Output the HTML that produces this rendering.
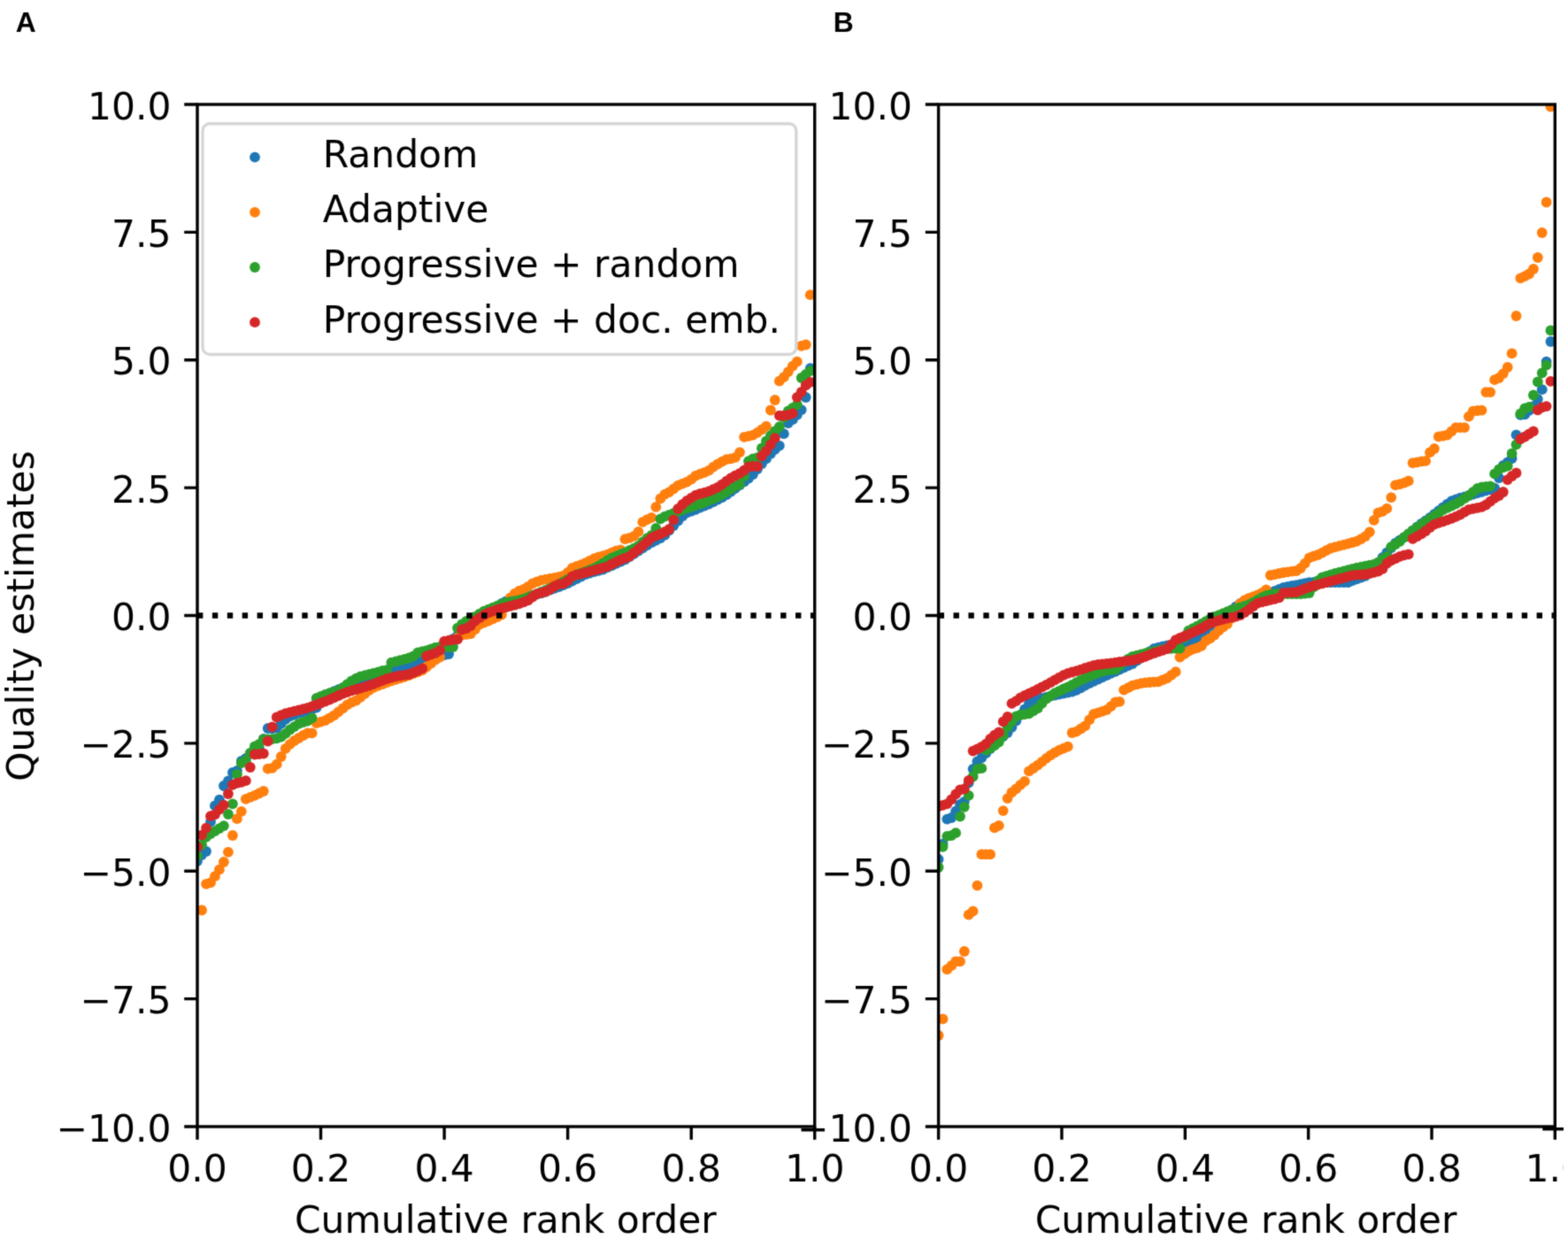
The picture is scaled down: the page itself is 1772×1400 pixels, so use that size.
<!DOCTYPE html>
<html><head><meta charset="utf-8"><title>Quality estimates vs cumulative rank order</title>
<style>
html,body{margin:0;padding:0;background:#fff;overflow:hidden;}
svg{display:block;}
text{font-family:"DejaVu Sans","Liberation Sans",sans-serif;font-size:42.4px;fill:#000;}
text.lab{font-family:"Liberation Sans",Arial,sans-serif;font-weight:bold;font-size:31.8px;}
</style></head>
<body>
<svg width="1772" height="1400" viewBox="0 0 1772 1400">
<defs><filter id="soft" x="0" y="0" width="1772" height="1400" filterUnits="userSpaceOnUse" color-interpolation-filters="sRGB"><feConvolveMatrix order="3" kernelMatrix="0.02768 0.11101 0.02768 0.11101 0.44521 0.11101 0.02768 0.11101 0.02768" divisor="1" edgeMode="duplicate" preserveAlpha="true"/></filter></defs>
<g filter="url(#soft)">
<rect width="1772" height="1400" fill="#fff"/>
<clipPath id="clipA"><rect x="223" y="118" width="697.7" height="1155"/></clipPath>
<g clip-path="url(#clipA)">
<g fill="#1f77b4">
<circle cx="223" cy="973" r="5.9"/>
<circle cx="228" cy="966.1" r="5.9"/>
<circle cx="233" cy="962" r="5.9"/>
<circle cx="238" cy="928.6" r="5.9"/>
<circle cx="242.9" cy="910.4" r="5.9"/>
<circle cx="247.9" cy="903.6" r="5.9"/>
<circle cx="252.9" cy="888" r="5.9"/>
<circle cx="257.9" cy="882.5" r="5.9"/>
<circle cx="262.9" cy="873" r="5.9"/>
<circle cx="267.9" cy="870.8" r="5.9"/>
<circle cx="272.8" cy="860" r="5.9"/>
<circle cx="277.8" cy="856.8" r="5.9"/>
<circle cx="282.8" cy="851.2" r="5.9"/>
<circle cx="287.8" cy="847.8" r="5.9"/>
<circle cx="292.8" cy="845" r="5.9"/>
<circle cx="297.8" cy="835" r="5.9"/>
<circle cx="302.7" cy="823" r="5.9"/>
<circle cx="307.7" cy="823.4" r="5.9"/>
<circle cx="312.7" cy="822.5" r="5.9"/>
<circle cx="317.7" cy="817.8" r="5.9"/>
<circle cx="322.7" cy="812.9" r="5.9"/>
<circle cx="327.7" cy="809.3" r="5.9"/>
<circle cx="332.6" cy="807.6" r="5.9"/>
<circle cx="337.6" cy="805.8" r="5.9"/>
<circle cx="342.6" cy="804.4" r="5.9"/>
<circle cx="347.6" cy="803" r="5.9"/>
<circle cx="352.6" cy="801.5" r="5.9"/>
<circle cx="357.6" cy="799.5" r="5.9"/>
<circle cx="362.5" cy="787.6" r="5.9"/>
<circle cx="367.5" cy="785.5" r="5.9"/>
<circle cx="372.5" cy="783.3" r="5.9"/>
<circle cx="377.5" cy="781.1" r="5.9"/>
<circle cx="382.5" cy="779.2" r="5.9"/>
<circle cx="387.5" cy="777.5" r="5.9"/>
<circle cx="392.4" cy="775.9" r="5.9"/>
<circle cx="397.4" cy="774.2" r="5.9"/>
<circle cx="402.4" cy="772.5" r="5.9"/>
<circle cx="407.4" cy="770.9" r="5.9"/>
<circle cx="412.4" cy="769.2" r="5.9"/>
<circle cx="417.4" cy="767.4" r="5.9"/>
<circle cx="422.3" cy="765.7" r="5.9"/>
<circle cx="427.3" cy="763.9" r="5.9"/>
<circle cx="432.3" cy="762.2" r="5.9"/>
<circle cx="437.3" cy="760.5" r="5.9"/>
<circle cx="442.3" cy="758.7" r="5.9"/>
<circle cx="447.3" cy="757" r="5.9"/>
<circle cx="452.2" cy="755.3" r="5.9"/>
<circle cx="457.2" cy="753.6" r="5.9"/>
<circle cx="462.2" cy="751.9" r="5.9"/>
<circle cx="467.2" cy="750.2" r="5.9"/>
<circle cx="472.2" cy="748.5" r="5.9"/>
<circle cx="477.2" cy="746.8" r="5.9"/>
<circle cx="482.1" cy="745.5" r="5.9"/>
<circle cx="487.1" cy="744.2" r="5.9"/>
<circle cx="492.1" cy="742.8" r="5.9"/>
<circle cx="497.1" cy="741.5" r="5.9"/>
<circle cx="502.1" cy="740.2" r="5.9"/>
<circle cx="507.1" cy="739.1" r="5.9"/>
<circle cx="512" cy="722" r="5.9"/>
<circle cx="517" cy="718.1" r="5.9"/>
<circle cx="522" cy="714.2" r="5.9"/>
<circle cx="527" cy="710.3" r="5.9"/>
<circle cx="532" cy="706.6" r="5.9"/>
<circle cx="537" cy="703.1" r="5.9"/>
<circle cx="541.9" cy="699.6" r="5.9"/>
<circle cx="546.9" cy="696.1" r="5.9"/>
<circle cx="551.9" cy="692.6" r="5.9"/>
<circle cx="556.9" cy="689.1" r="5.9"/>
<circle cx="561.9" cy="685.6" r="5.9"/>
<circle cx="566.9" cy="682" r="5.9"/>
<circle cx="571.9" cy="679.5" r="5.9"/>
<circle cx="576.8" cy="678.3" r="5.9"/>
<circle cx="581.8" cy="677.1" r="5.9"/>
<circle cx="586.8" cy="675.8" r="5.9"/>
<circle cx="591.8" cy="674.7" r="5.9"/>
<circle cx="596.8" cy="673.7" r="5.9"/>
<circle cx="601.8" cy="672.7" r="5.9"/>
<circle cx="606.7" cy="671.7" r="5.9"/>
<circle cx="611.7" cy="670.4" r="5.9"/>
<circle cx="616.7" cy="668.5" r="5.9"/>
<circle cx="621.7" cy="666.7" r="5.9"/>
<circle cx="626.7" cy="664.9" r="5.9"/>
<circle cx="631.7" cy="663.1" r="5.9"/>
<circle cx="636.6" cy="661.2" r="5.9"/>
<circle cx="641.6" cy="659.2" r="5.9"/>
<circle cx="646.6" cy="656.6" r="5.9"/>
<circle cx="651.6" cy="654.1" r="5.9"/>
<circle cx="656.6" cy="651.6" r="5.9"/>
<circle cx="661.6" cy="649" r="5.9"/>
<circle cx="666.5" cy="647.5" r="5.9"/>
<circle cx="671.5" cy="646.1" r="5.9"/>
<circle cx="676.5" cy="644.8" r="5.9"/>
<circle cx="681.5" cy="643.5" r="5.9"/>
<circle cx="686.5" cy="641.2" r="5.9"/>
<circle cx="691.5" cy="639" r="5.9"/>
<circle cx="696.4" cy="636.8" r="5.9"/>
<circle cx="701.4" cy="634.5" r="5.9"/>
<circle cx="706.4" cy="632.3" r="5.9"/>
<circle cx="711.4" cy="629.2" r="5.9"/>
<circle cx="716.4" cy="625.9" r="5.9"/>
<circle cx="721.4" cy="622.6" r="5.9"/>
<circle cx="726.3" cy="619.3" r="5.9"/>
<circle cx="731.3" cy="616" r="5.9"/>
<circle cx="736.3" cy="613.2" r="5.9"/>
<circle cx="741.3" cy="610.6" r="5.9"/>
<circle cx="746.3" cy="608" r="5.9"/>
<circle cx="751.3" cy="604.7" r="5.9"/>
<circle cx="756.2" cy="599.3" r="5.9"/>
<circle cx="761.2" cy="594" r="5.9"/>
<circle cx="766.2" cy="588.7" r="5.9"/>
<circle cx="771.2" cy="583.3" r="5.9"/>
<circle cx="776.2" cy="579.4" r="5.9"/>
<circle cx="781.2" cy="577.7" r="5.9"/>
<circle cx="786.1" cy="575.8" r="5.9"/>
<circle cx="791.1" cy="573.7" r="5.9"/>
<circle cx="796.1" cy="571.6" r="5.9"/>
<circle cx="801.1" cy="569.5" r="5.9"/>
<circle cx="806.1" cy="567" r="5.9"/>
<circle cx="811.1" cy="564.5" r="5.9"/>
<circle cx="816" cy="562" r="5.9"/>
<circle cx="821" cy="559.2" r="5.9"/>
<circle cx="826" cy="555.5" r="5.9"/>
<circle cx="831" cy="551.8" r="5.9"/>
<circle cx="836" cy="548" r="5.9"/>
<circle cx="841" cy="544.3" r="5.9"/>
<circle cx="845.9" cy="540.5" r="5.9"/>
<circle cx="850.9" cy="536.1" r="5.9"/>
<circle cx="855.9" cy="530" r="5.9"/>
<circle cx="860.9" cy="524" r="5.9"/>
<circle cx="865.9" cy="518.4" r="5.9"/>
<circle cx="870.9" cy="512.8" r="5.9"/>
<circle cx="875.8" cy="507.9" r="5.9"/>
<circle cx="880.8" cy="503.6" r="5.9"/>
<circle cx="885.8" cy="490.2" r="5.9"/>
<circle cx="890.8" cy="478.1" r="5.9"/>
<circle cx="895.8" cy="474.2" r="5.9"/>
<circle cx="900.8" cy="468.8" r="5.9"/>
<circle cx="905.7" cy="463.1" r="5.9"/>
<circle cx="910.7" cy="449" r="5.9"/>
<circle cx="915.7" cy="416.1" r="5.9"/>
</g>
<g fill="#ff7f0e">
<circle cx="228" cy="1028.5" r="5.9"/>
<circle cx="233" cy="998.9" r="5.9"/>
<circle cx="238" cy="997.4" r="5.9"/>
<circle cx="242.9" cy="990.2" r="5.9"/>
<circle cx="247.9" cy="982.7" r="5.9"/>
<circle cx="252.9" cy="974" r="5.9"/>
<circle cx="257.9" cy="962.9" r="5.9"/>
<circle cx="262.9" cy="944" r="5.9"/>
<circle cx="267.9" cy="925.2" r="5.9"/>
<circle cx="272.8" cy="916.8" r="5.9"/>
<circle cx="277.8" cy="902.9" r="5.9"/>
<circle cx="282.8" cy="900.9" r="5.9"/>
<circle cx="287.8" cy="898.8" r="5.9"/>
<circle cx="292.8" cy="896.5" r="5.9"/>
<circle cx="297.8" cy="894" r="5.9"/>
<circle cx="302.7" cy="868.6" r="5.9"/>
<circle cx="307.7" cy="867.8" r="5.9"/>
<circle cx="312.7" cy="863.7" r="5.9"/>
<circle cx="317.7" cy="855" r="5.9"/>
<circle cx="322.7" cy="845.9" r="5.9"/>
<circle cx="327.7" cy="840.9" r="5.9"/>
<circle cx="332.6" cy="837" r="5.9"/>
<circle cx="337.6" cy="834" r="5.9"/>
<circle cx="342.6" cy="831" r="5.9"/>
<circle cx="347.6" cy="828.3" r="5.9"/>
<circle cx="352.6" cy="828.4" r="5.9"/>
<circle cx="357.6" cy="817.1" r="5.9"/>
<circle cx="362.5" cy="815.7" r="5.9"/>
<circle cx="367.5" cy="814.1" r="5.9"/>
<circle cx="372.5" cy="811.4" r="5.9"/>
<circle cx="377.5" cy="808.3" r="5.9"/>
<circle cx="382.5" cy="804.3" r="5.9"/>
<circle cx="387.5" cy="800.3" r="5.9"/>
<circle cx="392.4" cy="796.4" r="5.9"/>
<circle cx="397.4" cy="793.6" r="5.9"/>
<circle cx="402.4" cy="791.6" r="5.9"/>
<circle cx="407.4" cy="787.8" r="5.9"/>
<circle cx="412.4" cy="783.8" r="5.9"/>
<circle cx="417.4" cy="779.8" r="5.9"/>
<circle cx="422.3" cy="776.8" r="5.9"/>
<circle cx="427.3" cy="774.9" r="5.9"/>
<circle cx="432.3" cy="773" r="5.9"/>
<circle cx="437.3" cy="771" r="5.9"/>
<circle cx="442.3" cy="769.3" r="5.9"/>
<circle cx="447.3" cy="767.8" r="5.9"/>
<circle cx="452.2" cy="766.3" r="5.9"/>
<circle cx="457.2" cy="764.8" r="5.9"/>
<circle cx="462.2" cy="763.1" r="5.9"/>
<circle cx="467.2" cy="761.2" r="5.9"/>
<circle cx="472.2" cy="759.3" r="5.9"/>
<circle cx="477.2" cy="757.3" r="5.9"/>
<circle cx="482.1" cy="753.5" r="5.9"/>
<circle cx="487.1" cy="749.5" r="5.9"/>
<circle cx="492.1" cy="745.6" r="5.9"/>
<circle cx="497.1" cy="742.5" r="5.9"/>
<circle cx="502.1" cy="730" r="5.9"/>
<circle cx="507.1" cy="728.2" r="5.9"/>
<circle cx="512" cy="724" r="5.9"/>
<circle cx="517" cy="720.6" r="5.9"/>
<circle cx="522" cy="717.6" r="5.9"/>
<circle cx="527" cy="716.9" r="5.9"/>
<circle cx="532" cy="716.1" r="5.9"/>
<circle cx="537" cy="711.1" r="5.9"/>
<circle cx="541.9" cy="705.5" r="5.9"/>
<circle cx="546.9" cy="703.5" r="5.9"/>
<circle cx="551.9" cy="701.5" r="5.9"/>
<circle cx="556.9" cy="699.4" r="5.9"/>
<circle cx="561.9" cy="697" r="5.9"/>
<circle cx="566.9" cy="694.7" r="5.9"/>
<circle cx="571.9" cy="683.9" r="5.9"/>
<circle cx="576.8" cy="675.3" r="5.9"/>
<circle cx="581.8" cy="670.7" r="5.9"/>
<circle cx="586.8" cy="667.6" r="5.9"/>
<circle cx="591.8" cy="665.9" r="5.9"/>
<circle cx="596.8" cy="662.8" r="5.9"/>
<circle cx="601.8" cy="659.4" r="5.9"/>
<circle cx="606.7" cy="657.3" r="5.9"/>
<circle cx="611.7" cy="655.7" r="5.9"/>
<circle cx="616.7" cy="654.7" r="5.9"/>
<circle cx="621.7" cy="653.7" r="5.9"/>
<circle cx="626.7" cy="653" r="5.9"/>
<circle cx="631.7" cy="652" r="5.9"/>
<circle cx="636.6" cy="650.6" r="5.9"/>
<circle cx="641.6" cy="647" r="5.9"/>
<circle cx="646.6" cy="642" r="5.9"/>
<circle cx="651.6" cy="639.9" r="5.9"/>
<circle cx="656.6" cy="638.2" r="5.9"/>
<circle cx="661.6" cy="636.2" r="5.9"/>
<circle cx="666.5" cy="633.7" r="5.9"/>
<circle cx="671.5" cy="631.2" r="5.9"/>
<circle cx="676.5" cy="629.5" r="5.9"/>
<circle cx="681.5" cy="628.2" r="5.9"/>
<circle cx="686.5" cy="626.7" r="5.9"/>
<circle cx="691.5" cy="624.5" r="5.9"/>
<circle cx="696.4" cy="622.4" r="5.9"/>
<circle cx="701.4" cy="621.5" r="5.9"/>
<circle cx="706.4" cy="609.2" r="5.9"/>
<circle cx="711.4" cy="607.8" r="5.9"/>
<circle cx="716.4" cy="605.8" r="5.9"/>
<circle cx="721.4" cy="600.8" r="5.9"/>
<circle cx="726.3" cy="589.8" r="5.9"/>
<circle cx="731.3" cy="587.1" r="5.9"/>
<circle cx="736.3" cy="584.9" r="5.9"/>
<circle cx="741.3" cy="572.9" r="5.9"/>
<circle cx="746.3" cy="563.4" r="5.9"/>
<circle cx="751.3" cy="558.7" r="5.9"/>
<circle cx="756.2" cy="556.1" r="5.9"/>
<circle cx="761.2" cy="552.4" r="5.9"/>
<circle cx="766.2" cy="548.7" r="5.9"/>
<circle cx="771.2" cy="546.7" r="5.9"/>
<circle cx="776.2" cy="544.7" r="5.9"/>
<circle cx="781.2" cy="541.7" r="5.9"/>
<circle cx="786.1" cy="537.7" r="5.9"/>
<circle cx="791.1" cy="535.6" r="5.9"/>
<circle cx="796.1" cy="533.9" r="5.9"/>
<circle cx="801.1" cy="531.7" r="5.9"/>
<circle cx="806.1" cy="527.7" r="5.9"/>
<circle cx="811.1" cy="524.4" r="5.9"/>
<circle cx="816" cy="521.7" r="5.9"/>
<circle cx="821" cy="519.1" r="5.9"/>
<circle cx="826" cy="518.4" r="5.9"/>
<circle cx="831" cy="516.9" r="5.9"/>
<circle cx="836" cy="511.1" r="5.9"/>
<circle cx="841" cy="493.9" r="5.9"/>
<circle cx="845.9" cy="492.8" r="5.9"/>
<circle cx="850.9" cy="491.7" r="5.9"/>
<circle cx="855.9" cy="488.9" r="5.9"/>
<circle cx="860.9" cy="485.4" r="5.9"/>
<circle cx="865.9" cy="481.7" r="5.9"/>
<circle cx="870.9" cy="463.5" r="5.9"/>
<circle cx="875.8" cy="452" r="5.9"/>
<circle cx="880.8" cy="430.7" r="5.9"/>
<circle cx="885.8" cy="426.2" r="5.9"/>
<circle cx="890.8" cy="420.1" r="5.9"/>
<circle cx="895.8" cy="413.6" r="5.9"/>
<circle cx="900.8" cy="408.7" r="5.9"/>
<circle cx="905.7" cy="390.9" r="5.9"/>
<circle cx="910.7" cy="389.5" r="5.9"/>
<circle cx="915.7" cy="333.2" r="5.9"/>
</g>
<g fill="#2ca02c">
<circle cx="223" cy="967" r="5.9"/>
<circle cx="228" cy="954.6" r="5.9"/>
<circle cx="233" cy="945.8" r="5.9"/>
<circle cx="238" cy="942.1" r="5.9"/>
<circle cx="242.9" cy="939.1" r="5.9"/>
<circle cx="247.9" cy="936.1" r="5.9"/>
<circle cx="252.9" cy="933.1" r="5.9"/>
<circle cx="257.9" cy="920" r="5.9"/>
<circle cx="262.9" cy="908.3" r="5.9"/>
<circle cx="267.9" cy="875" r="5.9"/>
<circle cx="272.8" cy="862.2" r="5.9"/>
<circle cx="277.8" cy="859.2" r="5.9"/>
<circle cx="282.8" cy="851" r="5.9"/>
<circle cx="287.8" cy="843.3" r="5.9"/>
<circle cx="292.8" cy="840.8" r="5.9"/>
<circle cx="297.8" cy="835.4" r="5.9"/>
<circle cx="302.7" cy="835.5" r="5.9"/>
<circle cx="307.7" cy="835.1" r="5.9"/>
<circle cx="312.7" cy="834.4" r="5.9"/>
<circle cx="317.7" cy="832.6" r="5.9"/>
<circle cx="322.7" cy="828.8" r="5.9"/>
<circle cx="327.7" cy="824.5" r="5.9"/>
<circle cx="332.6" cy="821.1" r="5.9"/>
<circle cx="337.6" cy="817.8" r="5.9"/>
<circle cx="342.6" cy="816" r="5.9"/>
<circle cx="347.6" cy="814.7" r="5.9"/>
<circle cx="352.6" cy="811.4" r="5.9"/>
<circle cx="357.6" cy="789" r="5.9"/>
<circle cx="362.5" cy="787" r="5.9"/>
<circle cx="367.5" cy="785" r="5.9"/>
<circle cx="372.5" cy="783.1" r="5.9"/>
<circle cx="377.5" cy="781.9" r="5.9"/>
<circle cx="382.5" cy="780.3" r="5.9"/>
<circle cx="387.5" cy="776.8" r="5.9"/>
<circle cx="392.4" cy="773.2" r="5.9"/>
<circle cx="397.4" cy="769.4" r="5.9"/>
<circle cx="402.4" cy="766.7" r="5.9"/>
<circle cx="407.4" cy="764.4" r="5.9"/>
<circle cx="412.4" cy="763.2" r="5.9"/>
<circle cx="417.4" cy="762" r="5.9"/>
<circle cx="422.3" cy="760.7" r="5.9"/>
<circle cx="427.3" cy="759.4" r="5.9"/>
<circle cx="432.3" cy="758" r="5.9"/>
<circle cx="437.3" cy="757.1" r="5.9"/>
<circle cx="442.3" cy="748.6" r="5.9"/>
<circle cx="447.3" cy="747.4" r="5.9"/>
<circle cx="452.2" cy="746.2" r="5.9"/>
<circle cx="457.2" cy="744.9" r="5.9"/>
<circle cx="462.2" cy="743.5" r="5.9"/>
<circle cx="467.2" cy="741.3" r="5.9"/>
<circle cx="472.2" cy="737.3" r="5.9"/>
<circle cx="477.2" cy="736.2" r="5.9"/>
<circle cx="482.1" cy="735.1" r="5.9"/>
<circle cx="487.1" cy="733.4" r="5.9"/>
<circle cx="492.1" cy="731.7" r="5.9"/>
<circle cx="497.1" cy="731" r="5.9"/>
<circle cx="502.1" cy="731" r="5.9"/>
<circle cx="507.1" cy="731" r="5.9"/>
<circle cx="512" cy="731" r="5.9"/>
<circle cx="517" cy="709.6" r="5.9"/>
<circle cx="522" cy="705.4" r="5.9"/>
<circle cx="527" cy="702" r="5.9"/>
<circle cx="532" cy="700.1" r="5.9"/>
<circle cx="537" cy="696.8" r="5.9"/>
<circle cx="541.9" cy="693.6" r="5.9"/>
<circle cx="546.9" cy="690.6" r="5.9"/>
<circle cx="551.9" cy="688.6" r="5.9"/>
<circle cx="556.9" cy="686.7" r="5.9"/>
<circle cx="561.9" cy="684.7" r="5.9"/>
<circle cx="566.9" cy="682.7" r="5.9"/>
<circle cx="571.9" cy="680.8" r="5.9"/>
<circle cx="576.8" cy="680" r="5.9"/>
<circle cx="581.8" cy="679.1" r="5.9"/>
<circle cx="586.8" cy="678.2" r="5.9"/>
<circle cx="591.8" cy="676.7" r="5.9"/>
<circle cx="596.8" cy="674.9" r="5.9"/>
<circle cx="601.8" cy="673.1" r="5.9"/>
<circle cx="606.7" cy="671.2" r="5.9"/>
<circle cx="611.7" cy="669" r="5.9"/>
<circle cx="616.7" cy="666.9" r="5.9"/>
<circle cx="621.7" cy="664.7" r="5.9"/>
<circle cx="626.7" cy="662.5" r="5.9"/>
<circle cx="631.7" cy="660.1" r="5.9"/>
<circle cx="636.6" cy="657.3" r="5.9"/>
<circle cx="641.6" cy="654.6" r="5.9"/>
<circle cx="646.6" cy="651.9" r="5.9"/>
<circle cx="651.6" cy="649.4" r="5.9"/>
<circle cx="656.6" cy="647.6" r="5.9"/>
<circle cx="661.6" cy="645.8" r="5.9"/>
<circle cx="666.5" cy="644" r="5.9"/>
<circle cx="671.5" cy="642.2" r="5.9"/>
<circle cx="676.5" cy="639.3" r="5.9"/>
<circle cx="681.5" cy="636.3" r="5.9"/>
<circle cx="686.5" cy="633.2" r="5.9"/>
<circle cx="691.5" cy="630.5" r="5.9"/>
<circle cx="696.4" cy="628.5" r="5.9"/>
<circle cx="701.4" cy="626.4" r="5.9"/>
<circle cx="706.4" cy="624.3" r="5.9"/>
<circle cx="711.4" cy="622" r="5.9"/>
<circle cx="716.4" cy="619.7" r="5.9"/>
<circle cx="721.4" cy="616.8" r="5.9"/>
<circle cx="726.3" cy="612.5" r="5.9"/>
<circle cx="731.3" cy="608.2" r="5.9"/>
<circle cx="736.3" cy="605" r="5.9"/>
<circle cx="741.3" cy="596.9" r="5.9"/>
<circle cx="746.3" cy="586.3" r="5.9"/>
<circle cx="751.3" cy="583.6" r="5.9"/>
<circle cx="756.2" cy="581.8" r="5.9"/>
<circle cx="761.2" cy="579.9" r="5.9"/>
<circle cx="766.2" cy="578.1" r="5.9"/>
<circle cx="771.2" cy="576.2" r="5.9"/>
<circle cx="776.2" cy="574.4" r="5.9"/>
<circle cx="781.2" cy="572.8" r="5.9"/>
<circle cx="786.1" cy="571.2" r="5.9"/>
<circle cx="791.1" cy="569.6" r="5.9"/>
<circle cx="796.1" cy="567.6" r="5.9"/>
<circle cx="801.1" cy="565.6" r="5.9"/>
<circle cx="806.1" cy="563.6" r="5.9"/>
<circle cx="811.1" cy="561.3" r="5.9"/>
<circle cx="816" cy="558.6" r="5.9"/>
<circle cx="821" cy="555.9" r="5.9"/>
<circle cx="826" cy="552.6" r="5.9"/>
<circle cx="831" cy="549.3" r="5.9"/>
<circle cx="836" cy="547.1" r="5.9"/>
<circle cx="841" cy="538" r="5.9"/>
<circle cx="845.9" cy="521.1" r="5.9"/>
<circle cx="850.9" cy="518.3" r="5.9"/>
<circle cx="855.9" cy="517.1" r="5.9"/>
<circle cx="860.9" cy="506.5" r="5.9"/>
<circle cx="865.9" cy="498.4" r="5.9"/>
<circle cx="870.9" cy="492.1" r="5.9"/>
<circle cx="875.8" cy="487.2" r="5.9"/>
<circle cx="880.8" cy="482.2" r="5.9"/>
<circle cx="885.8" cy="471.9" r="5.9"/>
<circle cx="890.8" cy="464.4" r="5.9"/>
<circle cx="895.8" cy="460.9" r="5.9"/>
<circle cx="900.8" cy="457.4" r="5.9"/>
<circle cx="905.7" cy="427" r="5.9"/>
<circle cx="910.7" cy="422.8" r="5.9"/>
<circle cx="915.7" cy="419.1" r="5.9"/>
</g>
<g fill="#d62728">
<circle cx="223" cy="957" r="5.9"/>
<circle cx="228" cy="943.6" r="5.9"/>
<circle cx="233" cy="935.6" r="5.9"/>
<circle cx="238" cy="922.2" r="5.9"/>
<circle cx="242.9" cy="920.3" r="5.9"/>
<circle cx="247.9" cy="914.7" r="5.9"/>
<circle cx="252.9" cy="909.6" r="5.9"/>
<circle cx="257.9" cy="897" r="5.9"/>
<circle cx="262.9" cy="886.8" r="5.9"/>
<circle cx="267.9" cy="884.8" r="5.9"/>
<circle cx="272.8" cy="883.8" r="5.9"/>
<circle cx="277.8" cy="882.2" r="5.9"/>
<circle cx="282.8" cy="867" r="5.9"/>
<circle cx="287.8" cy="852.5" r="5.9"/>
<circle cx="292.8" cy="852.1" r="5.9"/>
<circle cx="297.8" cy="851.5" r="5.9"/>
<circle cx="302.7" cy="837.5" r="5.9"/>
<circle cx="307.7" cy="821.4" r="5.9"/>
<circle cx="312.7" cy="810.3" r="5.9"/>
<circle cx="317.7" cy="808.2" r="5.9"/>
<circle cx="322.7" cy="806.2" r="5.9"/>
<circle cx="327.7" cy="804.9" r="5.9"/>
<circle cx="332.6" cy="803.6" r="5.9"/>
<circle cx="337.6" cy="802.4" r="5.9"/>
<circle cx="342.6" cy="801.1" r="5.9"/>
<circle cx="347.6" cy="799.8" r="5.9"/>
<circle cx="352.6" cy="798.1" r="5.9"/>
<circle cx="357.6" cy="796.4" r="5.9"/>
<circle cx="362.5" cy="794.5" r="5.9"/>
<circle cx="367.5" cy="792.6" r="5.9"/>
<circle cx="372.5" cy="790.7" r="5.9"/>
<circle cx="377.5" cy="788.3" r="5.9"/>
<circle cx="382.5" cy="786" r="5.9"/>
<circle cx="387.5" cy="783.9" r="5.9"/>
<circle cx="392.4" cy="782.1" r="5.9"/>
<circle cx="397.4" cy="780.4" r="5.9"/>
<circle cx="402.4" cy="779" r="5.9"/>
<circle cx="407.4" cy="777.7" r="5.9"/>
<circle cx="412.4" cy="776.2" r="5.9"/>
<circle cx="417.4" cy="774.5" r="5.9"/>
<circle cx="422.3" cy="772.8" r="5.9"/>
<circle cx="427.3" cy="770.8" r="5.9"/>
<circle cx="432.3" cy="768.8" r="5.9"/>
<circle cx="437.3" cy="767" r="5.9"/>
<circle cx="442.3" cy="765.7" r="5.9"/>
<circle cx="447.3" cy="764.4" r="5.9"/>
<circle cx="452.2" cy="763.5" r="5.9"/>
<circle cx="457.2" cy="762.9" r="5.9"/>
<circle cx="462.2" cy="762" r="5.9"/>
<circle cx="467.2" cy="760" r="5.9"/>
<circle cx="472.2" cy="757.8" r="5.9"/>
<circle cx="477.2" cy="755.3" r="5.9"/>
<circle cx="482.1" cy="741.4" r="5.9"/>
<circle cx="487.1" cy="739.7" r="5.9"/>
<circle cx="492.1" cy="737.9" r="5.9"/>
<circle cx="497.1" cy="734.9" r="5.9"/>
<circle cx="502.1" cy="724.6" r="5.9"/>
<circle cx="507.1" cy="723.7" r="5.9"/>
<circle cx="512" cy="722.8" r="5.9"/>
<circle cx="517" cy="722.3" r="5.9"/>
<circle cx="522" cy="711.5" r="5.9"/>
<circle cx="527" cy="710" r="5.9"/>
<circle cx="532" cy="707" r="5.9"/>
<circle cx="537" cy="701.5" r="5.9"/>
<circle cx="541.9" cy="698.2" r="5.9"/>
<circle cx="546.9" cy="694.9" r="5.9"/>
<circle cx="551.9" cy="692.3" r="5.9"/>
<circle cx="556.9" cy="690.6" r="5.9"/>
<circle cx="561.9" cy="688.9" r="5.9"/>
<circle cx="566.9" cy="687.5" r="5.9"/>
<circle cx="571.9" cy="686.2" r="5.9"/>
<circle cx="576.8" cy="684.8" r="5.9"/>
<circle cx="581.8" cy="683.5" r="5.9"/>
<circle cx="586.8" cy="682.2" r="5.9"/>
<circle cx="591.8" cy="680.4" r="5.9"/>
<circle cx="596.8" cy="678.4" r="5.9"/>
<circle cx="601.8" cy="674.6" r="5.9"/>
<circle cx="606.7" cy="671.1" r="5.9"/>
<circle cx="611.7" cy="669.8" r="5.9"/>
<circle cx="616.7" cy="668.5" r="5.9"/>
<circle cx="621.7" cy="665.9" r="5.9"/>
<circle cx="626.7" cy="662.5" r="5.9"/>
<circle cx="631.7" cy="660.1" r="5.9"/>
<circle cx="636.6" cy="659.6" r="5.9"/>
<circle cx="641.6" cy="656.4" r="5.9"/>
<circle cx="646.6" cy="651.4" r="5.9"/>
<circle cx="651.6" cy="649.7" r="5.9"/>
<circle cx="656.6" cy="648.3" r="5.9"/>
<circle cx="661.6" cy="647" r="5.9"/>
<circle cx="666.5" cy="645.7" r="5.9"/>
<circle cx="671.5" cy="644.4" r="5.9"/>
<circle cx="676.5" cy="643" r="5.9"/>
<circle cx="681.5" cy="641.7" r="5.9"/>
<circle cx="686.5" cy="640.2" r="5.9"/>
<circle cx="691.5" cy="637.5" r="5.9"/>
<circle cx="696.4" cy="634.9" r="5.9"/>
<circle cx="701.4" cy="632.6" r="5.9"/>
<circle cx="706.4" cy="630.6" r="5.9"/>
<circle cx="711.4" cy="628.6" r="5.9"/>
<circle cx="716.4" cy="624.6" r="5.9"/>
<circle cx="721.4" cy="620.6" r="5.9"/>
<circle cx="726.3" cy="616.7" r="5.9"/>
<circle cx="731.3" cy="612.4" r="5.9"/>
<circle cx="736.3" cy="607.8" r="5.9"/>
<circle cx="741.3" cy="605.4" r="5.9"/>
<circle cx="746.3" cy="603.5" r="5.9"/>
<circle cx="751.3" cy="601" r="5.9"/>
<circle cx="756.2" cy="598" r="5.9"/>
<circle cx="761.2" cy="587.4" r="5.9"/>
<circle cx="766.2" cy="575" r="5.9"/>
<circle cx="771.2" cy="570" r="5.9"/>
<circle cx="776.2" cy="565.8" r="5.9"/>
<circle cx="781.2" cy="562.7" r="5.9"/>
<circle cx="786.1" cy="559.7" r="5.9"/>
<circle cx="791.1" cy="558" r="5.9"/>
<circle cx="796.1" cy="556.7" r="5.9"/>
<circle cx="801.1" cy="555.2" r="5.9"/>
<circle cx="806.1" cy="552.9" r="5.9"/>
<circle cx="811.1" cy="550.6" r="5.9"/>
<circle cx="816" cy="547.4" r="5.9"/>
<circle cx="821" cy="543.7" r="5.9"/>
<circle cx="826" cy="540.1" r="5.9"/>
<circle cx="831" cy="537.5" r="5.9"/>
<circle cx="836" cy="534.8" r="5.9"/>
<circle cx="841" cy="531.5" r="5.9"/>
<circle cx="845.9" cy="527.5" r="5.9"/>
<circle cx="850.9" cy="526.8" r="5.9"/>
<circle cx="855.9" cy="527" r="5.9"/>
<circle cx="860.9" cy="515.4" r="5.9"/>
<circle cx="865.9" cy="509.6" r="5.9"/>
<circle cx="870.9" cy="502.3" r="5.9"/>
<circle cx="875.8" cy="495.1" r="5.9"/>
<circle cx="880.8" cy="469.6" r="5.9"/>
<circle cx="885.8" cy="469.6" r="5.9"/>
<circle cx="890.8" cy="468.8" r="5.9"/>
<circle cx="895.8" cy="467.1" r="5.9"/>
<circle cx="900.8" cy="448.9" r="5.9"/>
<circle cx="905.7" cy="442.9" r="5.9"/>
<circle cx="910.7" cy="435.3" r="5.9"/>
<circle cx="915.7" cy="431.9" r="5.9"/>
</g>
</g>
<line x1="223" y1="695.5" x2="920.7" y2="695.5" stroke="#000" stroke-width="6.4" stroke-dasharray="6.4 10.5" clip-path="url(#clipA)"/>
<path d="M208.2 118H223M208.2 262.4H223M208.2 406.8H223M208.2 551.1H223M208.2 695.5H223M208.2 839.9H223M208.2 984.2H223M208.2 1128.6H223M208.2 1273H223M223 1273V1287.8M362.5 1273V1287.8M502.1 1273V1287.8M641.6 1273V1287.8M781.2 1273V1287.8M920.7 1273V1287.8" stroke="#000" stroke-width="3.4" fill="none"/>
<rect x="223" y="118" width="697.7" height="1155" fill="none" stroke="#000" stroke-width="3.4" stroke-linejoin="miter"/>
<text x="193.4" y="134.5" text-anchor="end">10.0</text>
<text x="193.4" y="278.9" text-anchor="end">7.5</text>
<text x="193.4" y="423.2" text-anchor="end">5.0</text>
<text x="193.4" y="567.6" text-anchor="end">2.5</text>
<text x="193.4" y="712" text-anchor="end">0.0</text>
<text x="193.4" y="856.4" text-anchor="end">−2.5</text>
<text x="193.4" y="1000.8" text-anchor="end">−5.0</text>
<text x="193.4" y="1145.1" text-anchor="end">−7.5</text>
<text x="193.4" y="1289.5" text-anchor="end">−10.0</text>
<text x="223" y="1335.2" text-anchor="middle">0.0</text>
<text x="362.5" y="1335.2" text-anchor="middle">0.2</text>
<text x="502.1" y="1335.2" text-anchor="middle">0.4</text>
<text x="641.6" y="1335.2" text-anchor="middle">0.6</text>
<text x="781.2" y="1335.2" text-anchor="middle">0.8</text>
<text x="920.7" y="1335.2" text-anchor="middle">1.0</text>
<text x="571.4" y="1392.5" text-anchor="middle">Cumulative rank order</text>
<rect x="229.0" y="139.8" width="670.8" height="260.7" rx="8" ry="8" fill="#fff" fill-opacity="0.8" stroke="#d6d6d6" stroke-width="3.4"/>
<circle cx="288" cy="177.6" r="5.9" fill="#1f77b4"/>
<text x="364.8" y="189">Random</text>
<circle cx="288" cy="239.8" r="5.9" fill="#ff7f0e"/>
<text x="364.8" y="251.2">Adaptive</text>
<circle cx="288" cy="302" r="5.9" fill="#2ca02c"/>
<text x="364.8" y="313.4">Progressive + random</text>
<circle cx="288" cy="364.2" r="5.9" fill="#d62728"/>
<text x="364.8" y="375.6">Progressive + doc. emb.</text>
<clipPath id="clipB"><rect x="1060.6" y="118" width="696.7" height="1155"/></clipPath>
<g clip-path="url(#clipB)">
<g fill="#1f77b4">
<circle cx="1060.6" cy="971" r="5.9"/>
<circle cx="1065.5" cy="953.6" r="5.9"/>
<circle cx="1070.3" cy="925.6" r="5.9"/>
<circle cx="1075.2" cy="924" r="5.9"/>
<circle cx="1080.1" cy="916.7" r="5.9"/>
<circle cx="1085" cy="908.9" r="5.9"/>
<circle cx="1089.8" cy="905.8" r="5.9"/>
<circle cx="1094.7" cy="884.5" r="5.9"/>
<circle cx="1099.6" cy="868.9" r="5.9"/>
<circle cx="1104.4" cy="860.3" r="5.9"/>
<circle cx="1109.3" cy="856.3" r="5.9"/>
<circle cx="1114.2" cy="851.2" r="5.9"/>
<circle cx="1119.1" cy="846" r="5.9"/>
<circle cx="1123.9" cy="841.1" r="5.9"/>
<circle cx="1128.8" cy="836.2" r="5.9"/>
<circle cx="1133.7" cy="832" r="5.9"/>
<circle cx="1138.6" cy="828.1" r="5.9"/>
<circle cx="1143.4" cy="821.8" r="5.9"/>
<circle cx="1148.3" cy="814.5" r="5.9"/>
<circle cx="1153.2" cy="807.8" r="5.9"/>
<circle cx="1158" cy="801.3" r="5.9"/>
<circle cx="1162.9" cy="794.9" r="5.9"/>
<circle cx="1167.8" cy="792.4" r="5.9"/>
<circle cx="1172.7" cy="790.1" r="5.9"/>
<circle cx="1177.5" cy="789" r="5.9"/>
<circle cx="1182.4" cy="787.8" r="5.9"/>
<circle cx="1187.3" cy="786.7" r="5.9"/>
<circle cx="1192.1" cy="785.6" r="5.9"/>
<circle cx="1197" cy="784.6" r="5.9"/>
<circle cx="1201.9" cy="783.6" r="5.9"/>
<circle cx="1206.8" cy="782.6" r="5.9"/>
<circle cx="1211.6" cy="781.6" r="5.9"/>
<circle cx="1216.5" cy="779.9" r="5.9"/>
<circle cx="1221.4" cy="777.3" r="5.9"/>
<circle cx="1226.2" cy="774.7" r="5.9"/>
<circle cx="1231.1" cy="772.1" r="5.9"/>
<circle cx="1236" cy="769.9" r="5.9"/>
<circle cx="1240.9" cy="767.6" r="5.9"/>
<circle cx="1245.7" cy="765.3" r="5.9"/>
<circle cx="1250.6" cy="763.1" r="5.9"/>
<circle cx="1255.5" cy="760.9" r="5.9"/>
<circle cx="1260.4" cy="758.8" r="5.9"/>
<circle cx="1265.2" cy="756.6" r="5.9"/>
<circle cx="1270.1" cy="754.4" r="5.9"/>
<circle cx="1275" cy="752.2" r="5.9"/>
<circle cx="1279.8" cy="750.1" r="5.9"/>
<circle cx="1284.7" cy="746.6" r="5.9"/>
<circle cx="1289.6" cy="743.1" r="5.9"/>
<circle cx="1294.5" cy="739.6" r="5.9"/>
<circle cx="1299.3" cy="736.1" r="5.9"/>
<circle cx="1304.2" cy="732.9" r="5.9"/>
<circle cx="1309.1" cy="731.7" r="5.9"/>
<circle cx="1313.9" cy="730.5" r="5.9"/>
<circle cx="1318.8" cy="729.3" r="5.9"/>
<circle cx="1323.7" cy="728.5" r="5.9"/>
<circle cx="1328.6" cy="727.9" r="5.9"/>
<circle cx="1333.4" cy="727.2" r="5.9"/>
<circle cx="1338.3" cy="726.2" r="5.9"/>
<circle cx="1343.2" cy="724.9" r="5.9"/>
<circle cx="1348" cy="723.7" r="5.9"/>
<circle cx="1352.9" cy="720.9" r="5.9"/>
<circle cx="1357.8" cy="716.4" r="5.9"/>
<circle cx="1362.7" cy="711.8" r="5.9"/>
<circle cx="1367.5" cy="707.3" r="5.9"/>
<circle cx="1372.4" cy="703.2" r="5.9"/>
<circle cx="1377.3" cy="699.7" r="5.9"/>
<circle cx="1382.2" cy="696.2" r="5.9"/>
<circle cx="1387" cy="692.6" r="5.9"/>
<circle cx="1391.9" cy="689.1" r="5.9"/>
<circle cx="1396.8" cy="685.5" r="5.9"/>
<circle cx="1401.6" cy="682" r="5.9"/>
<circle cx="1406.5" cy="680" r="5.9"/>
<circle cx="1411.4" cy="678.5" r="5.9"/>
<circle cx="1416.3" cy="677.1" r="5.9"/>
<circle cx="1421.1" cy="675.5" r="5.9"/>
<circle cx="1426" cy="673.6" r="5.9"/>
<circle cx="1430.9" cy="671.7" r="5.9"/>
<circle cx="1435.7" cy="669.7" r="5.9"/>
<circle cx="1440.6" cy="667.8" r="5.9"/>
<circle cx="1445.5" cy="665.8" r="5.9"/>
<circle cx="1450.4" cy="663.9" r="5.9"/>
<circle cx="1455.2" cy="663" r="5.9"/>
<circle cx="1460.1" cy="662" r="5.9"/>
<circle cx="1465" cy="661.1" r="5.9"/>
<circle cx="1469.9" cy="660.1" r="5.9"/>
<circle cx="1474.7" cy="659.2" r="5.9"/>
<circle cx="1479.6" cy="658.2" r="5.9"/>
<circle cx="1484.5" cy="658" r="5.9"/>
<circle cx="1489.3" cy="658" r="5.9"/>
<circle cx="1494.2" cy="658" r="5.9"/>
<circle cx="1499.1" cy="658" r="5.9"/>
<circle cx="1504" cy="658" r="5.9"/>
<circle cx="1508.8" cy="658" r="5.9"/>
<circle cx="1513.7" cy="658" r="5.9"/>
<circle cx="1518.6" cy="658" r="5.9"/>
<circle cx="1523.4" cy="658" r="5.9"/>
<circle cx="1528.3" cy="656.2" r="5.9"/>
<circle cx="1533.2" cy="654.4" r="5.9"/>
<circle cx="1538.1" cy="652.6" r="5.9"/>
<circle cx="1542.9" cy="650.8" r="5.9"/>
<circle cx="1547.8" cy="646.8" r="5.9"/>
<circle cx="1552.7" cy="641.2" r="5.9"/>
<circle cx="1557.5" cy="635.6" r="5.9"/>
<circle cx="1562.4" cy="630" r="5.9"/>
<circle cx="1567.3" cy="624.4" r="5.9"/>
<circle cx="1572.2" cy="619" r="5.9"/>
<circle cx="1577" cy="613.7" r="5.9"/>
<circle cx="1581.9" cy="610.4" r="5.9"/>
<circle cx="1586.8" cy="607.1" r="5.9"/>
<circle cx="1591.7" cy="603.6" r="5.9"/>
<circle cx="1596.5" cy="599.4" r="5.9"/>
<circle cx="1601.4" cy="595.3" r="5.9"/>
<circle cx="1606.3" cy="591.7" r="5.9"/>
<circle cx="1611.1" cy="588.4" r="5.9"/>
<circle cx="1616" cy="584.8" r="5.9"/>
<circle cx="1620.9" cy="581" r="5.9"/>
<circle cx="1625.8" cy="577.2" r="5.9"/>
<circle cx="1630.6" cy="573.4" r="5.9"/>
<circle cx="1635.5" cy="569.6" r="5.9"/>
<circle cx="1640.4" cy="566.2" r="5.9"/>
<circle cx="1645.2" cy="564.4" r="5.9"/>
<circle cx="1650.1" cy="562.7" r="5.9"/>
<circle cx="1655" cy="561.4" r="5.9"/>
<circle cx="1659.9" cy="560" r="5.9"/>
<circle cx="1664.7" cy="558.6" r="5.9"/>
<circle cx="1669.6" cy="557.2" r="5.9"/>
<circle cx="1674.5" cy="555.8" r="5.9"/>
<circle cx="1679.3" cy="554.4" r="5.9"/>
<circle cx="1684.2" cy="553" r="5.9"/>
<circle cx="1689.1" cy="551.7" r="5.9"/>
<circle cx="1694" cy="540" r="5.9"/>
<circle cx="1698.8" cy="526" r="5.9"/>
<circle cx="1703.7" cy="522.3" r="5.9"/>
<circle cx="1708.6" cy="518" r="5.9"/>
<circle cx="1713.5" cy="491.3" r="5.9"/>
<circle cx="1718.3" cy="468.9" r="5.9"/>
<circle cx="1723.2" cy="468.3" r="5.9"/>
<circle cx="1728.1" cy="463.8" r="5.9"/>
<circle cx="1732.9" cy="459.2" r="5.9"/>
<circle cx="1737.8" cy="450.9" r="5.9"/>
<circle cx="1742.7" cy="440.2" r="5.9"/>
<circle cx="1747.6" cy="408.7" r="5.9"/>
<circle cx="1752.4" cy="386" r="5.9"/>
</g>
<g fill="#ff7f0e">
<circle cx="1060.6" cy="1170" r="5.9"/>
<circle cx="1065.5" cy="1151.4" r="5.9"/>
<circle cx="1070.3" cy="1095.4" r="5.9"/>
<circle cx="1075.2" cy="1091.2" r="5.9"/>
<circle cx="1080.1" cy="1086.4" r="5.9"/>
<circle cx="1085" cy="1086.4" r="5.9"/>
<circle cx="1089.8" cy="1075" r="5.9"/>
<circle cx="1094.7" cy="1033.6" r="5.9"/>
<circle cx="1099.6" cy="1029.7" r="5.9"/>
<circle cx="1104.4" cy="1000.7" r="5.9"/>
<circle cx="1109.3" cy="965.4" r="5.9"/>
<circle cx="1114.2" cy="965.4" r="5.9"/>
<circle cx="1119.1" cy="965.4" r="5.9"/>
<circle cx="1123.9" cy="935.4" r="5.9"/>
<circle cx="1128.8" cy="932.9" r="5.9"/>
<circle cx="1133.7" cy="916.1" r="5.9"/>
<circle cx="1138.6" cy="902.1" r="5.9"/>
<circle cx="1143.4" cy="895.4" r="5.9"/>
<circle cx="1148.3" cy="891.3" r="5.9"/>
<circle cx="1153.2" cy="886.8" r="5.9"/>
<circle cx="1158" cy="882.9" r="5.9"/>
<circle cx="1162.9" cy="871.4" r="5.9"/>
<circle cx="1167.8" cy="868" r="5.9"/>
<circle cx="1172.7" cy="864.6" r="5.9"/>
<circle cx="1177.5" cy="860.8" r="5.9"/>
<circle cx="1182.4" cy="856.9" r="5.9"/>
<circle cx="1187.3" cy="853.3" r="5.9"/>
<circle cx="1192.1" cy="850.3" r="5.9"/>
<circle cx="1197" cy="847.7" r="5.9"/>
<circle cx="1201.9" cy="845.7" r="5.9"/>
<circle cx="1206.8" cy="843.7" r="5.9"/>
<circle cx="1211.6" cy="828" r="5.9"/>
<circle cx="1216.5" cy="826.6" r="5.9"/>
<circle cx="1221.4" cy="823.5" r="5.9"/>
<circle cx="1226.2" cy="820.4" r="5.9"/>
<circle cx="1231.1" cy="813.4" r="5.9"/>
<circle cx="1236" cy="807" r="5.9"/>
<circle cx="1240.9" cy="805.4" r="5.9"/>
<circle cx="1245.7" cy="803.8" r="5.9"/>
<circle cx="1250.6" cy="802.1" r="5.9"/>
<circle cx="1255.5" cy="798.1" r="5.9"/>
<circle cx="1260.4" cy="793.5" r="5.9"/>
<circle cx="1265.2" cy="792.9" r="5.9"/>
<circle cx="1270.1" cy="779.6" r="5.9"/>
<circle cx="1275" cy="777.1" r="5.9"/>
<circle cx="1279.8" cy="774.7" r="5.9"/>
<circle cx="1284.7" cy="773.4" r="5.9"/>
<circle cx="1289.6" cy="772.2" r="5.9"/>
<circle cx="1294.5" cy="771.3" r="5.9"/>
<circle cx="1299.3" cy="771" r="5.9"/>
<circle cx="1304.2" cy="770.7" r="5.9"/>
<circle cx="1309.1" cy="770.3" r="5.9"/>
<circle cx="1313.9" cy="768.4" r="5.9"/>
<circle cx="1318.8" cy="766.4" r="5.9"/>
<circle cx="1323.7" cy="762.9" r="5.9"/>
<circle cx="1328.6" cy="759.2" r="5.9"/>
<circle cx="1333.4" cy="742.5" r="5.9"/>
<circle cx="1338.3" cy="739.2" r="5.9"/>
<circle cx="1343.2" cy="735.8" r="5.9"/>
<circle cx="1348" cy="733.7" r="5.9"/>
<circle cx="1352.9" cy="732.1" r="5.9"/>
<circle cx="1357.8" cy="729.9" r="5.9"/>
<circle cx="1362.7" cy="724.2" r="5.9"/>
<circle cx="1367.5" cy="721.4" r="5.9"/>
<circle cx="1372.4" cy="717.6" r="5.9"/>
<circle cx="1377.3" cy="712.7" r="5.9"/>
<circle cx="1382.2" cy="708.5" r="5.9"/>
<circle cx="1387" cy="705.1" r="5.9"/>
<circle cx="1391.9" cy="698.7" r="5.9"/>
<circle cx="1396.8" cy="687.8" r="5.9"/>
<circle cx="1401.6" cy="682.1" r="5.9"/>
<circle cx="1406.5" cy="678.2" r="5.9"/>
<circle cx="1411.4" cy="675.9" r="5.9"/>
<circle cx="1416.3" cy="674.2" r="5.9"/>
<circle cx="1421.1" cy="672.4" r="5.9"/>
<circle cx="1426" cy="670" r="5.9"/>
<circle cx="1430.9" cy="666.3" r="5.9"/>
<circle cx="1435.7" cy="650" r="5.9"/>
<circle cx="1440.6" cy="649.2" r="5.9"/>
<circle cx="1445.5" cy="648" r="5.9"/>
<circle cx="1450.4" cy="647" r="5.9"/>
<circle cx="1455.2" cy="646.3" r="5.9"/>
<circle cx="1460.1" cy="645.7" r="5.9"/>
<circle cx="1465" cy="645" r="5.9"/>
<circle cx="1469.9" cy="642" r="5.9"/>
<circle cx="1474.7" cy="636.6" r="5.9"/>
<circle cx="1479.6" cy="630.3" r="5.9"/>
<circle cx="1484.5" cy="628.5" r="5.9"/>
<circle cx="1489.3" cy="627" r="5.9"/>
<circle cx="1494.2" cy="624.7" r="5.9"/>
<circle cx="1499.1" cy="621.8" r="5.9"/>
<circle cx="1504" cy="619.5" r="5.9"/>
<circle cx="1508.8" cy="618.2" r="5.9"/>
<circle cx="1513.7" cy="616.9" r="5.9"/>
<circle cx="1518.6" cy="615.6" r="5.9"/>
<circle cx="1523.4" cy="614.3" r="5.9"/>
<circle cx="1528.3" cy="613" r="5.9"/>
<circle cx="1533.2" cy="611.7" r="5.9"/>
<circle cx="1538.1" cy="609.1" r="5.9"/>
<circle cx="1542.9" cy="606.1" r="5.9"/>
<circle cx="1547.8" cy="601.1" r="5.9"/>
<circle cx="1552.7" cy="587.9" r="5.9"/>
<circle cx="1557.5" cy="579.3" r="5.9"/>
<circle cx="1562.4" cy="577.8" r="5.9"/>
<circle cx="1567.3" cy="574.7" r="5.9"/>
<circle cx="1572.2" cy="562.1" r="5.9"/>
<circle cx="1577" cy="548.2" r="5.9"/>
<circle cx="1581.9" cy="547.2" r="5.9"/>
<circle cx="1586.8" cy="545.6" r="5.9"/>
<circle cx="1591.7" cy="543.5" r="5.9"/>
<circle cx="1596.5" cy="523.1" r="5.9"/>
<circle cx="1601.4" cy="522.4" r="5.9"/>
<circle cx="1606.3" cy="521.4" r="5.9"/>
<circle cx="1611.1" cy="520.9" r="5.9"/>
<circle cx="1616" cy="511.2" r="5.9"/>
<circle cx="1620.9" cy="507" r="5.9"/>
<circle cx="1625.8" cy="493.4" r="5.9"/>
<circle cx="1630.6" cy="492.7" r="5.9"/>
<circle cx="1635.5" cy="491.5" r="5.9"/>
<circle cx="1640.4" cy="487.3" r="5.9"/>
<circle cx="1645.2" cy="483.1" r="5.9"/>
<circle cx="1650.1" cy="483.1" r="5.9"/>
<circle cx="1655" cy="483.1" r="5.9"/>
<circle cx="1659.9" cy="470.6" r="5.9"/>
<circle cx="1664.7" cy="464.6" r="5.9"/>
<circle cx="1669.6" cy="464" r="5.9"/>
<circle cx="1674.5" cy="463.7" r="5.9"/>
<circle cx="1679.3" cy="443.1" r="5.9"/>
<circle cx="1684.2" cy="443.1" r="5.9"/>
<circle cx="1689.1" cy="429.2" r="5.9"/>
<circle cx="1694" cy="427" r="5.9"/>
<circle cx="1698.8" cy="422.1" r="5.9"/>
<circle cx="1703.7" cy="415" r="5.9"/>
<circle cx="1708.6" cy="399.3" r="5.9"/>
<circle cx="1713.5" cy="357" r="5.9"/>
<circle cx="1718.3" cy="314.3" r="5.9"/>
<circle cx="1723.2" cy="312.2" r="5.9"/>
<circle cx="1728.1" cy="309.5" r="5.9"/>
<circle cx="1732.9" cy="304" r="5.9"/>
<circle cx="1737.8" cy="291" r="5.9"/>
<circle cx="1742.7" cy="263" r="5.9"/>
<circle cx="1747.6" cy="228.5" r="5.9"/>
<circle cx="1752.4" cy="120.6" r="5.9"/>
</g>
<g fill="#2ca02c">
<circle cx="1060.6" cy="980" r="5.9"/>
<circle cx="1065.5" cy="956.8" r="5.9"/>
<circle cx="1070.3" cy="944.9" r="5.9"/>
<circle cx="1075.2" cy="944.1" r="5.9"/>
<circle cx="1080.1" cy="941.2" r="5.9"/>
<circle cx="1085" cy="922.5" r="5.9"/>
<circle cx="1089.8" cy="911.8" r="5.9"/>
<circle cx="1094.7" cy="898.9" r="5.9"/>
<circle cx="1099.6" cy="877.5" r="5.9"/>
<circle cx="1104.4" cy="868.9" r="5.9"/>
<circle cx="1109.3" cy="868.2" r="5.9"/>
<circle cx="1114.2" cy="847.5" r="5.9"/>
<circle cx="1119.1" cy="845.5" r="5.9"/>
<circle cx="1123.9" cy="842.4" r="5.9"/>
<circle cx="1128.8" cy="838.6" r="5.9"/>
<circle cx="1133.7" cy="831.1" r="5.9"/>
<circle cx="1138.6" cy="821.7" r="5.9"/>
<circle cx="1143.4" cy="815" r="5.9"/>
<circle cx="1148.3" cy="809.5" r="5.9"/>
<circle cx="1153.2" cy="807.9" r="5.9"/>
<circle cx="1158" cy="807.1" r="5.9"/>
<circle cx="1162.9" cy="806.3" r="5.9"/>
<circle cx="1167.8" cy="803.3" r="5.9"/>
<circle cx="1172.7" cy="800.4" r="5.9"/>
<circle cx="1177.5" cy="794.9" r="5.9"/>
<circle cx="1182.4" cy="789.7" r="5.9"/>
<circle cx="1187.3" cy="786.3" r="5.9"/>
<circle cx="1192.1" cy="783.1" r="5.9"/>
<circle cx="1197" cy="780.8" r="5.9"/>
<circle cx="1201.9" cy="778.5" r="5.9"/>
<circle cx="1206.8" cy="776.3" r="5.9"/>
<circle cx="1211.6" cy="773.8" r="5.9"/>
<circle cx="1216.5" cy="771.2" r="5.9"/>
<circle cx="1221.4" cy="768.6" r="5.9"/>
<circle cx="1226.2" cy="766.1" r="5.9"/>
<circle cx="1231.1" cy="764.1" r="5.9"/>
<circle cx="1236" cy="762.2" r="5.9"/>
<circle cx="1240.9" cy="760.2" r="5.9"/>
<circle cx="1245.7" cy="758.6" r="5.9"/>
<circle cx="1250.6" cy="757.4" r="5.9"/>
<circle cx="1255.5" cy="756.9" r="5.9"/>
<circle cx="1260.4" cy="756.4" r="5.9"/>
<circle cx="1265.2" cy="752.3" r="5.9"/>
<circle cx="1270.1" cy="747.9" r="5.9"/>
<circle cx="1275" cy="744.6" r="5.9"/>
<circle cx="1279.8" cy="741.8" r="5.9"/>
<circle cx="1284.7" cy="740.6" r="5.9"/>
<circle cx="1289.6" cy="739.4" r="5.9"/>
<circle cx="1294.5" cy="738.2" r="5.9"/>
<circle cx="1299.3" cy="737" r="5.9"/>
<circle cx="1304.2" cy="735.9" r="5.9"/>
<circle cx="1309.1" cy="735" r="5.9"/>
<circle cx="1313.9" cy="734.1" r="5.9"/>
<circle cx="1318.8" cy="733.2" r="5.9"/>
<circle cx="1323.7" cy="732.9" r="5.9"/>
<circle cx="1328.6" cy="732.7" r="5.9"/>
<circle cx="1333.4" cy="732.5" r="5.9"/>
<circle cx="1338.3" cy="720.6" r="5.9"/>
<circle cx="1343.2" cy="712.6" r="5.9"/>
<circle cx="1348" cy="710.1" r="5.9"/>
<circle cx="1352.9" cy="707.6" r="5.9"/>
<circle cx="1357.8" cy="704.8" r="5.9"/>
<circle cx="1362.7" cy="702.1" r="5.9"/>
<circle cx="1367.5" cy="699.4" r="5.9"/>
<circle cx="1372.4" cy="697" r="5.9"/>
<circle cx="1377.3" cy="695.1" r="5.9"/>
<circle cx="1382.2" cy="693.1" r="5.9"/>
<circle cx="1387" cy="691.2" r="5.9"/>
<circle cx="1391.9" cy="689.4" r="5.9"/>
<circle cx="1396.8" cy="688" r="5.9"/>
<circle cx="1401.6" cy="686.5" r="5.9"/>
<circle cx="1406.5" cy="685" r="5.9"/>
<circle cx="1411.4" cy="683.2" r="5.9"/>
<circle cx="1416.3" cy="680.6" r="5.9"/>
<circle cx="1421.1" cy="677.9" r="5.9"/>
<circle cx="1426" cy="675.2" r="5.9"/>
<circle cx="1430.9" cy="672.8" r="5.9"/>
<circle cx="1435.7" cy="671.9" r="5.9"/>
<circle cx="1440.6" cy="671" r="5.9"/>
<circle cx="1445.5" cy="671" r="5.9"/>
<circle cx="1450.4" cy="671" r="5.9"/>
<circle cx="1455.2" cy="671" r="5.9"/>
<circle cx="1460.1" cy="671" r="5.9"/>
<circle cx="1465" cy="671" r="5.9"/>
<circle cx="1469.9" cy="671" r="5.9"/>
<circle cx="1474.7" cy="670.5" r="5.9"/>
<circle cx="1479.6" cy="670" r="5.9"/>
<circle cx="1484.5" cy="663.4" r="5.9"/>
<circle cx="1489.3" cy="656.2" r="5.9"/>
<circle cx="1494.2" cy="652.4" r="5.9"/>
<circle cx="1499.1" cy="650.9" r="5.9"/>
<circle cx="1504" cy="649.5" r="5.9"/>
<circle cx="1508.8" cy="648" r="5.9"/>
<circle cx="1513.7" cy="646.6" r="5.9"/>
<circle cx="1518.6" cy="645.4" r="5.9"/>
<circle cx="1523.4" cy="644.1" r="5.9"/>
<circle cx="1528.3" cy="642.9" r="5.9"/>
<circle cx="1533.2" cy="641.7" r="5.9"/>
<circle cx="1538.1" cy="640.6" r="5.9"/>
<circle cx="1542.9" cy="639.7" r="5.9"/>
<circle cx="1547.8" cy="638.7" r="5.9"/>
<circle cx="1552.7" cy="637.7" r="5.9"/>
<circle cx="1557.5" cy="635.6" r="5.9"/>
<circle cx="1562.4" cy="631.8" r="5.9"/>
<circle cx="1567.3" cy="628.6" r="5.9"/>
<circle cx="1572.2" cy="617.9" r="5.9"/>
<circle cx="1577" cy="615.1" r="5.9"/>
<circle cx="1581.9" cy="611.8" r="5.9"/>
<circle cx="1586.8" cy="607.1" r="5.9"/>
<circle cx="1591.7" cy="603.1" r="5.9"/>
<circle cx="1596.5" cy="599.6" r="5.9"/>
<circle cx="1601.4" cy="596.2" r="5.9"/>
<circle cx="1606.3" cy="592.9" r="5.9"/>
<circle cx="1611.1" cy="589.6" r="5.9"/>
<circle cx="1616" cy="586.4" r="5.9"/>
<circle cx="1620.9" cy="583.1" r="5.9"/>
<circle cx="1625.8" cy="579.7" r="5.9"/>
<circle cx="1630.6" cy="576.2" r="5.9"/>
<circle cx="1635.5" cy="573.8" r="5.9"/>
<circle cx="1640.4" cy="571.5" r="5.9"/>
<circle cx="1645.2" cy="569.3" r="5.9"/>
<circle cx="1650.1" cy="566.6" r="5.9"/>
<circle cx="1655" cy="563.2" r="5.9"/>
<circle cx="1659.9" cy="559.8" r="5.9"/>
<circle cx="1664.7" cy="555.9" r="5.9"/>
<circle cx="1669.6" cy="552" r="5.9"/>
<circle cx="1674.5" cy="550.3" r="5.9"/>
<circle cx="1679.3" cy="549.8" r="5.9"/>
<circle cx="1684.2" cy="549.4" r="5.9"/>
<circle cx="1689.1" cy="535.4" r="5.9"/>
<circle cx="1694" cy="530.4" r="5.9"/>
<circle cx="1698.8" cy="528.2" r="5.9"/>
<circle cx="1703.7" cy="526.7" r="5.9"/>
<circle cx="1708.6" cy="512.5" r="5.9"/>
<circle cx="1713.5" cy="502.3" r="5.9"/>
<circle cx="1718.3" cy="467.4" r="5.9"/>
<circle cx="1723.2" cy="461.3" r="5.9"/>
<circle cx="1728.1" cy="459.9" r="5.9"/>
<circle cx="1732.9" cy="446.5" r="5.9"/>
<circle cx="1737.8" cy="431.5" r="5.9"/>
<circle cx="1742.7" cy="421.3" r="5.9"/>
<circle cx="1747.6" cy="412.7" r="5.9"/>
<circle cx="1752.4" cy="373.4" r="5.9"/>
</g>
<g fill="#d62728">
<circle cx="1060.6" cy="911" r="5.9"/>
<circle cx="1065.5" cy="909.8" r="5.9"/>
<circle cx="1070.3" cy="908.3" r="5.9"/>
<circle cx="1075.2" cy="903.4" r="5.9"/>
<circle cx="1080.1" cy="897.4" r="5.9"/>
<circle cx="1085" cy="892.5" r="5.9"/>
<circle cx="1089.8" cy="891.5" r="5.9"/>
<circle cx="1094.7" cy="881.8" r="5.9"/>
<circle cx="1099.6" cy="848.6" r="5.9"/>
<circle cx="1104.4" cy="846.4" r="5.9"/>
<circle cx="1109.3" cy="843.9" r="5.9"/>
<circle cx="1114.2" cy="840.6" r="5.9"/>
<circle cx="1119.1" cy="834.9" r="5.9"/>
<circle cx="1123.9" cy="830.7" r="5.9"/>
<circle cx="1128.8" cy="827.5" r="5.9"/>
<circle cx="1133.7" cy="815.4" r="5.9"/>
<circle cx="1138.6" cy="809.8" r="5.9"/>
<circle cx="1143.4" cy="794.9" r="5.9"/>
<circle cx="1148.3" cy="792.1" r="5.9"/>
<circle cx="1153.2" cy="788.4" r="5.9"/>
<circle cx="1158" cy="786" r="5.9"/>
<circle cx="1162.9" cy="783.7" r="5.9"/>
<circle cx="1167.8" cy="781.5" r="5.9"/>
<circle cx="1172.7" cy="778.9" r="5.9"/>
<circle cx="1177.5" cy="776.3" r="5.9"/>
<circle cx="1182.4" cy="773.8" r="5.9"/>
<circle cx="1187.3" cy="771.1" r="5.9"/>
<circle cx="1192.1" cy="768.4" r="5.9"/>
<circle cx="1197" cy="765.6" r="5.9"/>
<circle cx="1201.9" cy="762.9" r="5.9"/>
<circle cx="1206.8" cy="760.9" r="5.9"/>
<circle cx="1211.6" cy="759.5" r="5.9"/>
<circle cx="1216.5" cy="758.1" r="5.9"/>
<circle cx="1221.4" cy="756.6" r="5.9"/>
<circle cx="1226.2" cy="755" r="5.9"/>
<circle cx="1231.1" cy="753.4" r="5.9"/>
<circle cx="1236" cy="751.8" r="5.9"/>
<circle cx="1240.9" cy="751" r="5.9"/>
<circle cx="1245.7" cy="750.5" r="5.9"/>
<circle cx="1250.6" cy="749.9" r="5.9"/>
<circle cx="1255.5" cy="749.3" r="5.9"/>
<circle cx="1260.4" cy="748.6" r="5.9"/>
<circle cx="1265.2" cy="748" r="5.9"/>
<circle cx="1270.1" cy="747.4" r="5.9"/>
<circle cx="1275" cy="746.7" r="5.9"/>
<circle cx="1279.8" cy="746" r="5.9"/>
<circle cx="1284.7" cy="744.9" r="5.9"/>
<circle cx="1289.6" cy="743.5" r="5.9"/>
<circle cx="1294.5" cy="741.9" r="5.9"/>
<circle cx="1299.3" cy="739.9" r="5.9"/>
<circle cx="1304.2" cy="738" r="5.9"/>
<circle cx="1309.1" cy="736.4" r="5.9"/>
<circle cx="1313.9" cy="734.8" r="5.9"/>
<circle cx="1318.8" cy="733.2" r="5.9"/>
<circle cx="1323.7" cy="728.3" r="5.9"/>
<circle cx="1328.6" cy="723.1" r="5.9"/>
<circle cx="1333.4" cy="721" r="5.9"/>
<circle cx="1338.3" cy="719" r="5.9"/>
<circle cx="1343.2" cy="716.9" r="5.9"/>
<circle cx="1348" cy="714.6" r="5.9"/>
<circle cx="1352.9" cy="712.4" r="5.9"/>
<circle cx="1357.8" cy="710" r="5.9"/>
<circle cx="1362.7" cy="707.2" r="5.9"/>
<circle cx="1367.5" cy="704.4" r="5.9"/>
<circle cx="1372.4" cy="702.4" r="5.9"/>
<circle cx="1377.3" cy="701.1" r="5.9"/>
<circle cx="1382.2" cy="699.8" r="5.9"/>
<circle cx="1387" cy="698.6" r="5.9"/>
<circle cx="1391.9" cy="697.6" r="5.9"/>
<circle cx="1396.8" cy="696.6" r="5.9"/>
<circle cx="1401.6" cy="695" r="5.9"/>
<circle cx="1406.5" cy="692.1" r="5.9"/>
<circle cx="1411.4" cy="688.9" r="5.9"/>
<circle cx="1416.3" cy="685" r="5.9"/>
<circle cx="1421.1" cy="681.7" r="5.9"/>
<circle cx="1426" cy="680.4" r="5.9"/>
<circle cx="1430.9" cy="679.1" r="5.9"/>
<circle cx="1435.7" cy="677.9" r="5.9"/>
<circle cx="1440.6" cy="676.9" r="5.9"/>
<circle cx="1445.5" cy="675.4" r="5.9"/>
<circle cx="1450.4" cy="670" r="5.9"/>
<circle cx="1455.2" cy="669.7" r="5.9"/>
<circle cx="1460.1" cy="669.3" r="5.9"/>
<circle cx="1465" cy="669" r="5.9"/>
<circle cx="1469.9" cy="667.1" r="5.9"/>
<circle cx="1474.7" cy="665.2" r="5.9"/>
<circle cx="1479.6" cy="663.3" r="5.9"/>
<circle cx="1484.5" cy="661.9" r="5.9"/>
<circle cx="1489.3" cy="660.6" r="5.9"/>
<circle cx="1494.2" cy="659.3" r="5.9"/>
<circle cx="1499.1" cy="658" r="5.9"/>
<circle cx="1504" cy="656.7" r="5.9"/>
<circle cx="1508.8" cy="655.4" r="5.9"/>
<circle cx="1513.7" cy="654.1" r="5.9"/>
<circle cx="1518.6" cy="652.8" r="5.9"/>
<circle cx="1523.4" cy="651.5" r="5.9"/>
<circle cx="1528.3" cy="650.2" r="5.9"/>
<circle cx="1533.2" cy="649.7" r="5.9"/>
<circle cx="1538.1" cy="649.4" r="5.9"/>
<circle cx="1542.9" cy="649" r="5.9"/>
<circle cx="1547.8" cy="648.2" r="5.9"/>
<circle cx="1552.7" cy="646.9" r="5.9"/>
<circle cx="1557.5" cy="645.5" r="5.9"/>
<circle cx="1562.4" cy="642.9" r="5.9"/>
<circle cx="1567.3" cy="636.7" r="5.9"/>
<circle cx="1572.2" cy="633.4" r="5.9"/>
<circle cx="1577" cy="631.1" r="5.9"/>
<circle cx="1581.9" cy="628.9" r="5.9"/>
<circle cx="1586.8" cy="627.3" r="5.9"/>
<circle cx="1591.7" cy="626.4" r="5.9"/>
<circle cx="1596.5" cy="608.9" r="5.9"/>
<circle cx="1601.4" cy="606.1" r="5.9"/>
<circle cx="1606.3" cy="603.3" r="5.9"/>
<circle cx="1611.1" cy="600" r="5.9"/>
<circle cx="1616" cy="596.1" r="5.9"/>
<circle cx="1620.9" cy="592.6" r="5.9"/>
<circle cx="1625.8" cy="590.9" r="5.9"/>
<circle cx="1630.6" cy="589.3" r="5.9"/>
<circle cx="1635.5" cy="587.6" r="5.9"/>
<circle cx="1640.4" cy="585.8" r="5.9"/>
<circle cx="1645.2" cy="583.9" r="5.9"/>
<circle cx="1650.1" cy="581.7" r="5.9"/>
<circle cx="1655" cy="578.7" r="5.9"/>
<circle cx="1659.9" cy="575.8" r="5.9"/>
<circle cx="1664.7" cy="574.8" r="5.9"/>
<circle cx="1669.6" cy="573.8" r="5.9"/>
<circle cx="1674.5" cy="572.8" r="5.9"/>
<circle cx="1679.3" cy="570.5" r="5.9"/>
<circle cx="1684.2" cy="566.6" r="5.9"/>
<circle cx="1689.1" cy="562.9" r="5.9"/>
<circle cx="1694" cy="560" r="5.9"/>
<circle cx="1698.8" cy="556" r="5.9"/>
<circle cx="1703.7" cy="542.1" r="5.9"/>
<circle cx="1708.6" cy="538" r="5.9"/>
<circle cx="1713.5" cy="534.5" r="5.9"/>
<circle cx="1718.3" cy="496" r="5.9"/>
<circle cx="1723.2" cy="493.5" r="5.9"/>
<circle cx="1728.1" cy="490.3" r="5.9"/>
<circle cx="1732.9" cy="487.4" r="5.9"/>
<circle cx="1737.8" cy="463.4" r="5.9"/>
<circle cx="1742.7" cy="460.4" r="5.9"/>
<circle cx="1747.6" cy="459.1" r="5.9"/>
<circle cx="1752.4" cy="430.8" r="5.9"/>
</g>
</g>
<line x1="1060.6" y1="695.5" x2="1757.3" y2="695.5" stroke="#000" stroke-width="6.4" stroke-dasharray="6.4 10.5" clip-path="url(#clipB)"/>
<path d="M1045.8 118H1060.6M1045.8 262.4H1060.6M1045.8 406.8H1060.6M1045.8 551.1H1060.6M1045.8 695.5H1060.6M1045.8 839.9H1060.6M1045.8 984.2H1060.6M1045.8 1128.6H1060.6M1045.8 1273H1060.6M1060.6 1273V1287.8M1199.9 1273V1287.8M1339.3 1273V1287.8M1478.6 1273V1287.8M1618 1273V1287.8M1757.3 1273V1287.8" stroke="#000" stroke-width="3.4" fill="none"/>
<rect x="1060.6" y="118" width="696.7" height="1155" fill="none" stroke="#000" stroke-width="3.4" stroke-linejoin="miter"/>
<text x="1031" y="134.5" text-anchor="end">10.0</text>
<text x="1031" y="278.9" text-anchor="end">7.5</text>
<text x="1031" y="423.2" text-anchor="end">5.0</text>
<text x="1031" y="567.6" text-anchor="end">2.5</text>
<text x="1031" y="712" text-anchor="end">0.0</text>
<text x="1031" y="856.4" text-anchor="end">−2.5</text>
<text x="1031" y="1000.8" text-anchor="end">−5.0</text>
<text x="1031" y="1145.1" text-anchor="end">−7.5</text>
<text x="1031" y="1289.5" text-anchor="end">−10.0</text>
<text x="1060.6" y="1335.2" text-anchor="middle">0.0</text>
<text x="1199.9" y="1335.2" text-anchor="middle">0.2</text>
<text x="1339.3" y="1335.2" text-anchor="middle">0.4</text>
<text x="1478.6" y="1335.2" text-anchor="middle">0.6</text>
<text x="1618" y="1335.2" text-anchor="middle">0.8</text>
<text x="1757.3" y="1335.2" text-anchor="middle">1.0</text>
<text x="1408" y="1392.5" text-anchor="middle">Cumulative rank order</text>
<text transform="translate(38.2 696) rotate(-90)" text-anchor="middle">Quality estimates</text>
<text x="1868.6" y="1288.9" text-anchor="end">−10.0</text>
<text class="lab" x="17.7" y="35.9">A</text>
<text class="lab" x="941.8" y="35.9">B</text>
<rect x="1767" y="0" width="5" height="1400" fill="#fff"/>
</g>
</svg>
</body></html>
